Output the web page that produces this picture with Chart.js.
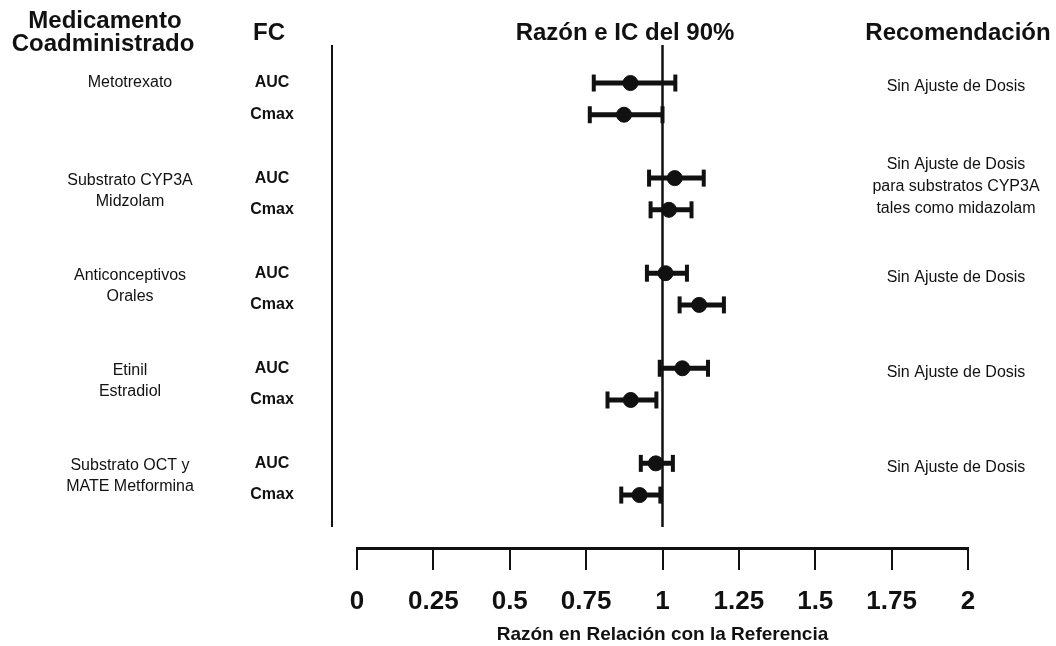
<!DOCTYPE html>
<html lang="es">
<head>
<meta charset="utf-8">
<title>Razón e IC del 90%</title>
<script src="https://cdn.jsdelivr.net/npm/chart.js@4.4.1/dist/chart.umd.min.js"></script>
<style>
  html, body { margin: 0; padding: 0; background: #fff; }
  #wrap { position: relative; width: 1056px; height: 646px; }
</style>
</head>
<body>
<div id="wrap"><canvas id="forestChart"></canvas></div>
<script>
const drugs = [
  ["Metotrexato"],
  ["Substrato CYP3A", "Midzolam"],
  ["Anticonceptivos", "Orales"],
  ["Etinil", "Estradiol"],
  ["Substrato OCT y", "MATE Metformina"],
];
const params = ["AUC", "Cmax"];
const recommendations = [
  ["Sin Ajuste de Dosis"],
  ["Sin Ajuste de Dosis", "para substratos CYP3A", "tales como midazolam"],
  ["Sin Ajuste de Dosis"],
  ["Sin Ajuste de Dosis"],
  ["Sin Ajuste de Dosis"],
];

// one entry per drug/parameter row: AUC then Cmax for each drug
const ratio = [0.895, 0.874, 1.04, 1.021, 1.01, 1.12, 1.065, 0.896, 0.978, 0.925];
const lower = [0.775, 0.762, 0.956, 0.961, 0.949, 1.056, 0.991, 0.82, 0.929, 0.865];
const upper = [1.042, 1.0, 1.135, 1.095, 1.08, 1.201, 1.149, 0.98, 1.034, 0.993];

const xTickLabels = ["0", "0.25", "0.5", "0.75", "1", "1.25", "1.5", "1.75", "2"];

const FONT = '"Liberation Sans", Arial, Helvetica, sans-serif';
const INK = "#111";

// AUC and Cmax sit on consecutive rows, a blank row between drugs
function rowOf(i) {
  return Math.floor(i / 2) * 3 + (i % 2);
}

const ciData = [];
const capData = [];
lower.forEach((lo, i) => {
  ciData.push({ x: lo, y: rowOf(i) }, { x: upper[i], y: rowOf(i) }, { x: null, y: null });
  capData.push({ x: lo, y: rowOf(i) }, { x: upper[i], y: rowOf(i) });
});
const pointData = ratio.map((v, i) => ({ x: v, y: rowOf(i) }));

function drawLines(ctx, lines, x, y0, step) {
  lines.forEach((t, k) => ctx.fillText(t, x, y0 + k * step));
}

const tablePlugin = {
  id: "tableText",
  beforeDatasetsDraw(chart) {
    const { ctx, chartArea, scales } = chart;
    const bottom = chartArea.bottom - 21;
    ctx.save();
    ctx.strokeStyle = INK;
    ctx.lineWidth = 2;
    ctx.beginPath();
    ctx.moveTo(chartArea.left - 25, chartArea.top);
    ctx.lineTo(chartArea.left - 25, bottom);
    ctx.stroke();
    const x1 = scales.x.getPixelForValue(1);
    ctx.lineWidth = 2.5;
    ctx.beginPath();
    ctx.moveTo(x1, chartArea.top);
    ctx.lineTo(x1, bottom);
    ctx.stroke();
    ctx.restore();
  },
  afterDraw(chart) {
    const { ctx, scales } = chart;
    const y = scales.y;
    ctx.save();
    ctx.fillStyle = INK;
    ctx.textBaseline = "middle";
    ctx.textAlign = "center";

    // column headers
    ctx.font = `bold 24px ${FONT}`;
    ctx.fillText("Medicamento", 105, 21);
    ctx.fillText("Coadministrado", 103, 44);
    ctx.fillText("FC", 269, 33);
    ctx.fillText("Razón e IC del 90%", 625, 33);
    ctx.fillText("Recomendación", 958, 33);

    drugs.forEach((lines, g) => {
      const aucY = y.getPixelForValue(g * 3);
      ctx.font = `16px ${FONT}`;
      drawLines(ctx, lines, 130, aucY + (lines.length > 1 ? 2 : 0), 21);

      ctx.font = `bold 16px ${FONT}`;
      params.forEach((p, k) => {
        ctx.fillText(p, 272, y.getPixelForValue(g * 3 + k));
      });

      const rec = recommendations[g];
      ctx.font = `16px ${FONT}`;
      drawLines(ctx, rec, 956, aucY + 4 - (rec.length - 1) * 9, 22);
    });
    ctx.restore();
  },
};

new Chart(document.getElementById("forestChart"), {
  type: "scatter",
  data: {
    datasets: [
      {
        label: "IC 90%",
        type: "line",
        data: ciData,
        borderColor: INK,
        borderWidth: 5,
        pointRadius: 0,
        spanGaps: false,
      },
      {
        label: "Límites",
        data: capData,
        pointStyle: "line",
        rotation: 90,
        pointRadius: 8.5,
        borderColor: INK,
        borderWidth: 4,
      },
      {
        label: "Razón",
        data: pointData,
        pointStyle: "circle",
        pointRadius: 7.5,
        backgroundColor: INK,
        borderColor: INK,
        borderWidth: 1,
      },
    ],
  },
  options: {
    responsive: true,
    maintainAspectRatio: false,
    animation: false,
    layout: { padding: { left: 357, right: 88, top: 45, bottom: 0 } },
    scales: {
      x: {
        type: "linear",
        min: 0,
        max: 2,
        afterFit(scale) {
          scale.height = 98;
        },
        ticks: {
          stepSize: 0.25,
          padding: 16,
          color: INK,
          font: { family: FONT, size: 26, weight: "bold" },
          maxRotation: 0,
          callback: (value, index) => xTickLabels[index],
        },
        grid: {
          drawOnChartArea: false,
          drawTicks: true,
          tickLength: 22,
          color: INK,
          lineWidth: 2,
        },
        border: { display: true, color: INK, width: 3 },
        title: {
          display: true,
          text: "Razón en Relación con la Referencia",
          color: INK,
          font: { family: FONT, size: 19, weight: "bold" },
          padding: { top: 0, bottom: 0 },
        },
      },
      y: {
        type: "linear",
        display: false,
        reverse: true,
        min: -1.2,
        max: 14.67,
      },
    },
    plugins: {
      legend: { display: false },
      tooltip: { enabled: false },
    },
  },
  plugins: [tablePlugin],
});
</script>
</body>
</html>
